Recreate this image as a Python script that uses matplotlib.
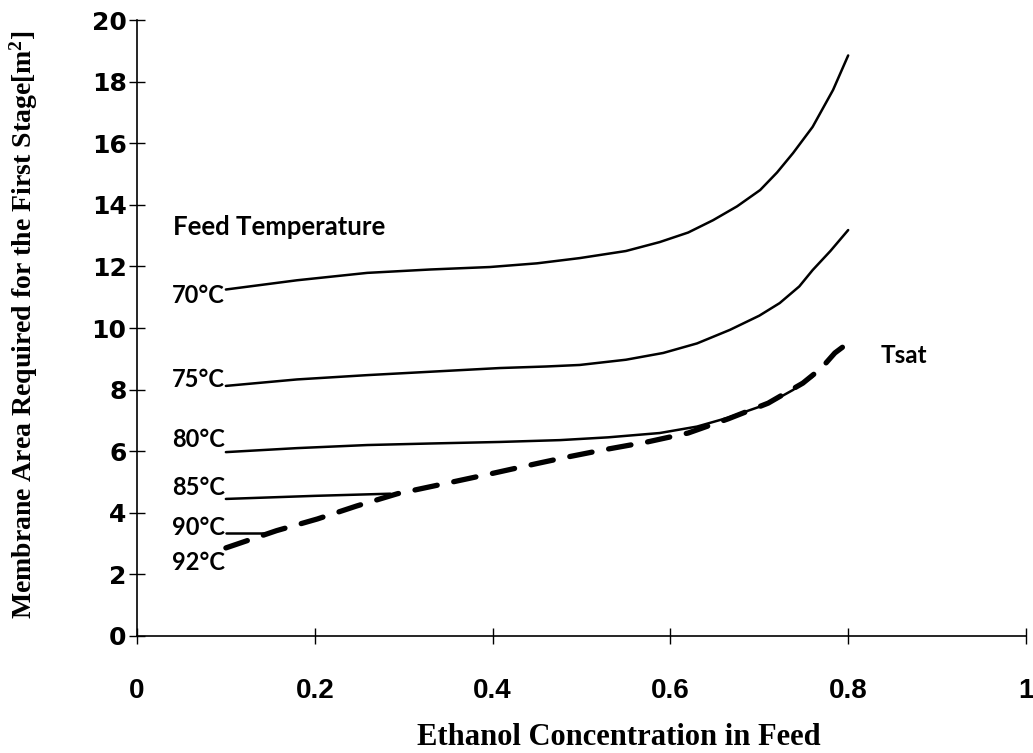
import matplotlib.pyplot as plt

plt.rcParams['mathtext.default'] = 'regular'

# values
conc_70 = [0.1, 0.18, 0.259, 0.33, 0.397, 0.45, 0.498, 0.55, 0.588, 0.62, 0.648, 0.675, 0.701,
           0.72, 0.738, 0.76, 0.783, 0.8]
area_70 = [11.25, 11.55, 11.79, 11.9, 11.98, 12.1, 12.27, 12.5, 12.79, 13.1, 13.5, 13.95, 14.48,
           15.05, 15.68, 16.53, 17.73, 18.85]

conc_75 = [0.1, 0.18, 0.259, 0.33, 0.408, 0.46, 0.498, 0.55, 0.592, 0.63, 0.667, 0.7, 0.723,
           0.745, 0.76, 0.78, 0.8]
area_75 = [8.12, 8.33, 8.47, 8.58, 8.7, 8.75, 8.8, 8.97, 9.19, 9.5, 9.94, 10.4, 10.81,
           11.35, 11.88, 12.5, 13.18]

conc_80 = [0.1, 0.18, 0.259, 0.33, 0.408, 0.476, 0.53, 0.588, 0.63, 0.664, 0.7, 0.72, 0.738, 0.76]
area_80 = [5.97, 6.1, 6.2, 6.25, 6.3, 6.36, 6.45, 6.59, 6.8, 7.08, 7.44, 7.7, 7.99, 8.42]

conc_85 = [0.1, 0.2, 0.285]
area_85 = [4.45, 4.55, 4.62]

conc_90 = [0.1, 0.147]
area_90 = [3.34, 3.34]

conc_sat = [0.1, 0.157, 0.203, 0.247, 0.293, 0.35, 0.4, 0.45, 0.484, 0.526, 0.574, 0.62,
            0.665, 0.71, 0.749, 0.77, 0.785, 0.797]
area_sat = [2.86, 3.42, 3.8, 4.22, 4.62, 4.97, 5.28, 5.6, 5.81, 6.05, 6.3, 6.59,
            7.05, 7.56, 8.21, 8.7, 9.19, 9.45]

temp_labels = ['70°C', '75°C', '80°C', '85°C', '90°C', '92°C']
temp_label_y = [10.81, 8.08, 6.14, 4.58, 3.28, 2.14]

fig = plt.figure(figsize=(10.33, 7.53), dpi=100)
ax = fig.add_axes([0.1326, 0.1554, 0.8606, 0.818])

for xs, ys in [(conc_70, area_70), (conc_75, area_75), (conc_80, area_80),
               (conc_85, area_85), (conc_90, area_90)]:
    ax.plot(xs, ys, color='black', linewidth=1.8, solid_capstyle='round', solid_joinstyle='round')

ax.plot(conc_sat, area_sat, color='black', linewidth=3.8, linestyle=(0, (4.3, 3.2)),
        dash_capstyle='round')

lbl_font = dict(family='Lato', fontweight='bold')
for t, y in zip(temp_labels, temp_label_y):
    ax.text(0.099, y, t, ha='right', va='baseline', fontsize=17, **lbl_font)
ax.text(0.0405, 13.02, 'Feed Temperature', ha='left', va='baseline', fontsize=18.5, **lbl_font)
ax.text(0.836, 8.86, 'Tsat', ha='left', va='baseline', fontsize=17.5, **lbl_font)

ax.set_xlim(0, 1)
ax.set_ylim(0, 20)
ax.set_xticks([0, 0.2, 0.4, 0.6, 0.8, 1])
ax.set_xticklabels(['0', '0.2', '0.4', '0.6', '0.8', '1'])
ax.set_yticks(range(0, 21, 2))

for side in ['top', 'right']:
    ax.spines[side].set_visible(False)
for side in ['left', 'bottom']:
    ax.spines[side].set_linewidth(1.2)

ax.tick_params(direction='inout', length=11, width=1.0)
ax.tick_params(axis='x', pad=25)
ax.tick_params(axis='y', pad=2)
for lab in ax.get_xticklabels():
    lab.set_family('Liberation Sans')
    lab.set_fontweight('bold')
    lab.set_fontsize(20)
for lab in ax.get_yticklabels():
    lab.set_family('DejaVu Sans')
    lab.set_fontweight('bold')
    lab.set_fontsize(18)

ax.set_xlabel('Ethanol Concentration in Feed', family='Liberation Serif',
              fontweight='bold', fontsize=22)
ax.xaxis.set_label_coords(0.542, -0.142)
ax.set_ylabel('Membrane Area Required for the First Stage[m$^2$]', family='Liberation Serif',
              fontweight='bold', fontsize=20)
ax.yaxis.set_label_coords(-0.109, 0.505)

fig.savefig('out.png', dpi=100)
